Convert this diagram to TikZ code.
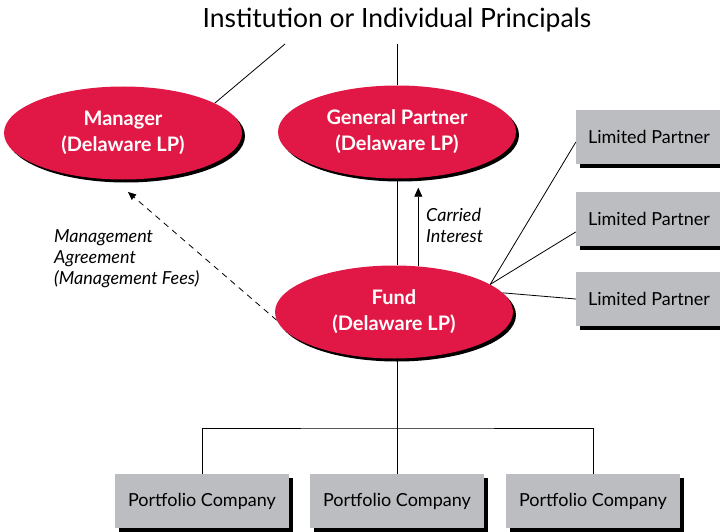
\documentclass[tikz,border=0pt]{standalone}
\usepackage{fontspec}
\setmainfont{Lato}
\usetikzlibrary{shapes.geometric,shadows,arrows.meta}
\definecolor{entred}{RGB}{225,24,69}
\definecolor{entgray}{RGB}{188,189,192}

\begin{document}
\begin{tikzpicture}[x=1pt, y=-1pt,
    entity/.style={ellipse, fill=entred, minimum width=238pt, minimum height=93pt, inner sep=0pt,
        align=center, text=white, font=\fontsize{20}{26}\selectfont\bfseries,
        drop shadow={shadow xshift=3pt, shadow yshift=-3pt, fill=black, opacity=1}},
    party/.style={rectangle, fill=entgray, minimum height=54pt, inner sep=0pt,
        font=\fontsize{18}{20}\selectfont,
        drop shadow={shadow xshift=4pt, shadow yshift=-4pt, fill=black, opacity=1}},
    link/.style={line width=0.8pt},
    note/.style={align=left, inner sep=0pt, font=\fontsize{18}{21}\selectfont\itshape}]

        \useasboundingbox (0,0) rectangle (720,532);

        % Owners on top
        \node[font=\fontsize{26.5}{30}\selectfont] (title) at (397,20) {Institution or Individual Principals};

        % Entities
        \node[entity] (mgr) at (123,133) {Manager\\(Delaware LP)};
        \node[entity] (gp) at (397,132) {General Partner\\(Delaware LP)};
        \node[entity] (fund) at (394,312) {Fund\\(Delaware LP)};

        % Investors
        \node[party, minimum width=146pt] (lp1) at (649,137) {Limited Partner};
        \node[party, minimum width=146pt] (lp2) at (649,219) {Limited Partner};
        \node[party, minimum width=146pt] (lp3) at (649,299) {Limited Partner};

        % Investments
        \node[party, minimum width=174pt] (pc1) at (202,501) {Portfolio Company};
        \node[party, minimum width=174pt] (pc2) at (397,501) {Portfolio Company};
        \node[party, minimum width=174pt] (pc3) at (593,501) {Portfolio Company};

        % Ownership lines
        \coordinate (tl) at (285,44);
        \draw[link] (tl) -- (mgr.18);
        \draw[link] (gp.north) -- (gp.north |- tl);
        \draw[link] (gp.south) -- (gp.south |- fund.north);
        \draw[link] (fund.16) -- (lp1.184);
        \draw[link] (fund.16) -- (lp2.190);
        \draw[link] (fund.10) -- (lp3.west);

        \coordinate (bus) at (397,428);
        \draw[link] (fund.south -| pc2.north) -- (pc2.north);
        \draw[link] (pc1.north) |- (bus) -| (pc3.north);

        % Payments
        \draw[link, -{Triangle[length=9pt, width=8pt]}, shorten >=9pt] (fund.62) -- (fund.62 |- gp.south);
        \node[note, anchor=west] (carry) at (426,225) {Carried\\Interest};

        \coordinate (mtip) at (128,192);
        \draw[link, dash pattern=on 6pt off 5pt, -{Triangle[length=8pt, width=7pt]}] (fund.184) -- (mtip);
        \node[note, anchor=west] (fees) at (54,259) {Management\\Agreement\\(Management Fees)};

\end{tikzpicture}
\end{document}
